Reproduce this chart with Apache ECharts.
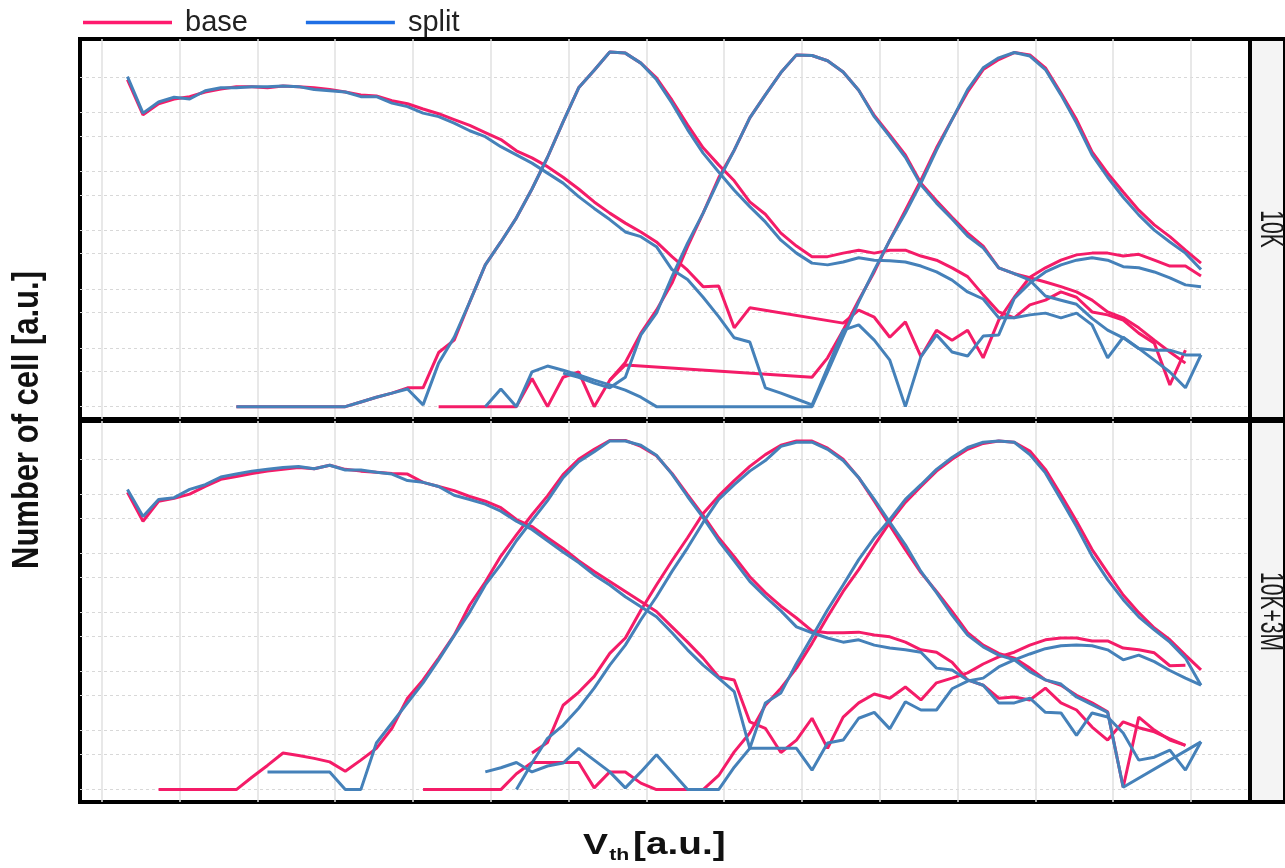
<!DOCTYPE html>
<html lang="en">
<head>
    <meta charset="UTF-8">
    <title>Vth distribution</title>
    <script src="https://cdn.jsdelivr.net/npm/echarts@6.0.0/dist/echarts.min.js"></script>
    <style>
        html, body { margin: 0; padding: 0; background: #fff; }
        #main { width: 1285px; height: 868px; }
    </style>
</head>
<body>

<div id="main"></div>

<script type="text/javascript">
    // bins: Vth = VTH0 + k * VTH_STEP, y = log10(number of cells)
    var VTH0 = 0.33, VTH_STEP = 0.2;
    var X_GRID = [0, 1, 2, 3, 4, 5, 6, 7, 8, 9, 10, 11, 12, 13, 14];
    var Y_GRID = [0, 0.6, 1, 1.6, 2, 2.6, 3, 3.6, 4, 4.6, 5, 5.6];
    var PANELS = ['10K', '10K+3M'];

    // ---- 10K ----
    var base10K_E = [5.56, 4.96, 5.15, 5.23, 5.27, 5.35, 5.40, 5.44, 5.44, 5.42,
        5.45, 5.44, 5.42, 5.39, 5.35, 5.30, 5.28, 5.20, 5.15, 5.06,
        4.98, 4.88, 4.78, 4.66, 4.54, 4.35, 4.23, 4.08, 3.90, 3.70,
        3.48, 3.29, 3.12, 2.97, 2.80, 2.55, 2.32, 2.04, 2.05, 1.34,
        1.68, null, null, null, null, null, 1.42, 1.64, 1.52, 1.18,
        1.44, 0.85, 1.30, 1.13, 1.30, 0.83, 1.47, 1.86, 2.20, 2.36,
        2.49, 2.58, 2.61, 2.61, 2.56, 2.59, 2.49, 2.39, 2.39, 2.22];
    var split10K_E = [5.61, 4.99, 5.18, 5.26, 5.23, 5.37, 5.42, 5.42, 5.44, 5.44,
        5.45, 5.44, 5.39, 5.37, 5.35, 5.27, 5.27, 5.16, 5.10, 4.99,
        4.93, 4.82, 4.69, 4.59, 4.42, 4.28, 4.14, 3.97, 3.80, 3.57,
        3.37, 3.18, 2.97, 2.89, 2.72, 2.33, 2.16, 1.86, 1.53, 1.17,
        1.10, 0.32, 0.23, 0.13, 0.03, 0.66, 1.30, 1.39, 1.13, 0.79,
        0.00, 0.85, 1.22, 0.93, 0.86, 1.20, 1.22, 1.84, 2.10, 2.29,
        2.41, 2.49, 2.53, 2.49, 2.38, 2.36, 2.29, 2.19, 2.07, 2.04];
    // from bin 7
    var base10K_P1 = [0, 0, 0, 0, 0, 0, 0, 0,
        0.08, 0.16, 0.23, 0.32, 0.32,
        0.92, 1.13, 1.78, 2.41, 2.80, 3.21, 3.70, 4.24, 4.84, 5.42,
        5.72, 6.03, 6.01, 5.84, 5.59, 5.21, 4.79, 4.40, 4.11, 3.84,
        3.48, 3.27, 2.95, 2.73, 2.55, 2.55, 2.61, 2.66, 2.61, 2.66,
        2.66, 2.56, 2.49, 2.36, 2.21, 1.90, 1.61, 1.51, 1.73, 1.81,
        1.95, 1.86, 1.61, 1.56, 1.47, 1.25, 1.08, 0.37, 0.96];
    var split10K_P1 = [0, 0, 0, 0, 0, 0, 0, 0,
        0.08, 0.16, 0.23, 0.30, 0.03,
        0.74, 1.18, 1.78, 2.41, 2.80, 3.21, 3.70, 4.24, 4.84, 5.42,
        5.72, 6.03, 6.01, 5.84, 5.56, 5.16, 4.71, 4.31, 3.99, 3.68,
        3.40, 3.14, 2.83, 2.61, 2.44, 2.41, 2.46, 2.53, 2.49, 2.48,
        2.46, 2.39, 2.29, 2.15, 1.95, 1.83, 1.51, 1.51, 1.56, 1.59,
        1.51, 1.59, 1.39, 0.83, 1.18, 0.99, 0.96, 0.96, 0.88, 0.88];
    // from bin 20
    var base10K_P2 = [0, 0, 0, 0, 0, 0,
        0.48, 0, 0.50, 0.59,
        0, 0.45, 0.75, 1.25, 1.64, 2.10, 2.72, 3.29, 3.89, 4.36,
        4.91, 5.30, 5.68, 5.98, 5.97, 5.88, 5.69, 5.38, 4.95, 4.62,
        4.28, 3.80, 3.50, 3.22, 2.95, 2.73, 2.36, 2.26, 2.19, 2.12,
        2.04, 1.95, 1.81, 1.61, 1.51, 1.34, 1.13, 0.93, 0.74];
    // from bin 28
    var split10K_P2 = [0.57, 0.50,
        0.40, 0.32, 0.50, 1.22, 1.59, 2.21, 2.78, 3.29, 3.85, 4.36,
        4.91, 5.30, 5.68, 5.98, 5.97, 5.88, 5.69, 5.38, 4.93, 4.59,
        4.24, 3.77, 3.46, 3.19, 2.90, 2.70, 2.36, 2.26, 2.15, 1.88,
        1.81, 1.74, 1.50, 1.30, 1.17, 0.99, 0.79, 0.59, 0.32, 0.88];
    // from bin 31
    var base10K_P3 = [0.45, 0.71,
        null, null, null, null, null, null, null, null, null, null, null,
        0.50, 0.83, 1.30, 1.81, 2.29, 2.83,
        3.34, 3.85, 4.40, 4.88, 5.35, 5.73, 5.90, 6.02, 5.98, 5.76,
        5.33, 4.88, 4.33, 3.97, 3.65, 3.34, 3.09, 2.89, 2.66, 2.44];
    // from bin 23
    var split10K_P3 = [0, 0.30, 0, 0.59, 0.69, 0.62, 0.54,
        0.45, 0.37, 0.28, 0.16, 0, 0, 0, 0, 0, 0,
        0, 0, 0, 0, 0, 0.59, 1.19, 1.78, 2.32, 2.83,
        3.29, 3.80, 4.36, 4.88, 5.39, 5.76, 5.93, 6.02, 5.96, 5.73,
        5.30, 4.82, 4.28, 3.90, 3.56, 3.26, 3.00, 2.80, 2.61, 2.33];

    // ---- 10K+3M ----
    var base3M_E = [5.04, 4.55, 4.89, 4.94, 5.01, 5.14, 5.26, 5.31, 5.36, 5.40,
        5.43, 5.46, 5.44, 5.50, 5.43, 5.40, 5.38, 5.36, 5.35, 5.21,
        5.14, 5.07, 4.97, 4.89, 4.78, 4.58, 4.46, 4.27, 4.09, 3.88,
        3.70, 3.53, 3.36, 3.19, 3.02, 2.76, 2.50, 2.23, 1.91, 1.86,
        1.15, 1.04, 0.63, 0.84, 1.21, 0.70, 1.23, 1.47, 1.62, 1.55,
        1.74, 1.52, 1.81, 1.89, 1.98, 2.13, 2.25, 2.33, 2.45, 2.54,
        2.57, 2.57, 2.52, 2.52, 2.40, 2.37, 2.32, 2.10, 2.11];
    var split3M_E = [5.09, 4.63, 4.92, 4.95, 5.09, 5.17, 5.30, 5.35, 5.40, 5.43,
        5.46, 5.48, 5.44, 5.50, 5.42, 5.42, 5.38, 5.35, 5.24, 5.21,
        5.14, 4.99, 4.92, 4.84, 4.72, 4.55, 4.41, 4.22, 4.03, 3.85,
        3.64, 3.47, 3.27, 3.10, 2.93, 2.66, 2.37, 2.11, 1.89, 1.66,
        0.70, 0.70, 0.70, 0.70, 0.33, 0.79, 0.84, 1.21, 1.31, 1.03,
        1.49, 1.35, 1.35, 1.71, 1.84, 1.89, 2.08, 2.20, 2.30, 2.39,
        2.44, 2.45, 2.44, 2.37, 2.20, 2.28, 2.17, 2.02, 1.89, 1.77];
    // from bin 2
    var base3M_P1 = [0, 0, 0, 0, 0, 0,
        0.21, 0.41,
        0.62, 0.58, 0.53, 0.47, 0.31, 0.50, 0.70, 1.04, 1.55, 1.86,
        2.23, 2.62, 3.13, 3.52, 3.96, 4.32, 4.66, 4.98, 5.34, 5.60,
        5.77, 5.92, 5.92, 5.82, 5.66, 5.36, 5.00, 4.65, 4.27, 3.95,
        3.61, 3.34, 3.11, 2.91, 2.69, 2.66, 2.66, 2.67, 2.62, 2.59,
        2.50, 2.37, 2.33, 2.16, 1.86, 1.77, 1.55, 1.57, 1.52, 1.72,
        1.47, 1.35, 1.06, 0.84, 1.15, 1.05, 0.98, 0.86, 0.75];
    // from bin 9
    var split3M_P1 = [0.30, 0.30, 0.30, 0.30, 0.30,
        0, 0, 0.79, 1.13, 1.47, 1.81,
        2.20, 2.61, 3.01, 3.47, 3.82, 4.22, 4.56, 4.90, 5.29, 5.56,
        5.73, 5.91, 5.91, 5.84, 5.67, 5.35, 4.97, 4.61, 4.22, 3.88,
        3.53, 3.27, 3.03, 2.76, 2.66, 2.57, 2.50, 2.54, 2.45, 2.40,
        2.37, 2.33, 2.06, 2.03, 1.86, 1.77, 1.47, 1.47, 1.55, 1.31,
        1.30, 0.92, 1.30, 1.23, 0.96, 0.50, 0.55, 0.67, 0.33, 0.81];
    // from bin 26
    var base3M_P2 = [0.62, 0.80, 1.43, 1.65,
        1.92, 2.31, 2.57, 3.04, 3.47, 3.88, 4.27, 4.68, 4.98, 5.24,
        5.48, 5.68, 5.84, 5.91, 5.91, 5.79, 5.60, 5.29, 4.89, 4.48,
        4.07, 3.68, 3.36, 3.02, 2.66, 2.45, 2.31, 2.23, 2.06, 1.86,
        1.77, 1.60, 1.47, 1.32, 0.04, 1.23, 1.01, 0.84, 0.75];
    // from bin 25
    var split3M_P2 = [0, 0.45, 0.87, 1.09, 1.38,
        1.72, 2.11, 2.45, 2.88, 3.27, 3.70, 4.10, 4.53, 4.92, 5.17,
        5.40, 5.58, 5.82, 5.89, 5.89, 5.77, 5.58, 5.29, 4.92, 4.53,
        4.15, 3.70, 3.34, 2.96, 2.62, 2.42, 2.28, 2.20, 2.00, 1.86,
        1.79, 1.57, 1.44, 1.31, 0.04, null, null, null, null, 0.81];
    // from bin 19
    var base3M_P3 = [0, 0, 0, 0, 0, 0,
        0.27, 0.46, 0.46, 0.46, 0.46,
        0.03, 0.30, 0.30, 0.11, 0, 0, 0, 0, 0.24, 0.64,
        0.96, 1.43, 1.72, 2.06, 2.48, 2.93, 3.36, 3.73, 4.14, 4.53,
        4.87, 5.14, 5.40, 5.60, 5.77, 5.87, 5.91, 5.89, 5.74, 5.43,
        5.00, 4.55, 4.07, 3.68, 3.30, 3.00, 2.74, 2.54, 2.28, 2.03];
    // from bin 23
    var split3M_P3 = [0.30, 0.37, 0.46, 0.30, 0.40, 0.45, 0.70,
        0.50, 0.30, 0.03, 0.30, 0.59, 0.30, 0, 0, 0, 0.38,
        0.70, 1.47, 1.64, 2.14, 2.59, 3.05, 3.47, 3.90, 4.27, 4.58,
        4.92, 5.17, 5.43, 5.63, 5.80, 5.89, 5.91, 5.89, 5.68, 5.37,
        4.92, 4.46, 3.96, 3.56, 3.22, 2.93, 2.71, 2.50, 2.23, 1.77];

    // [panel, first bin, values]
    var baseCurves = [
        [0, 0, base10K_E], [0, 7, base10K_P1], [0, 20, base10K_P2], [0, 31, base10K_P3],
        [1, 0, base3M_E], [1, 2, base3M_P1], [1, 26, base3M_P2], [1, 19, base3M_P3]
    ];
    var splitCurves = [
        [0, 0, split10K_E], [0, 7, split10K_P1], [0, 28, split10K_P2], [0, 23, split10K_P3],
        [1, 0, split3M_E], [1, 9, split3M_P1], [1, 25, split3M_P2], [1, 23, split3M_P3]
    ];

    var PINK = '#f41c68', BLUE = '#4581b9';
    var FONT = '"Liberation Sans", Arial, sans-serif';
    var GRID_TOP = [39, 421], GRID_H = [380, 381];

    function toPoints(start, ys) {
        var pts = [];
        ys.forEach(function (v, i) {
            if (v !== null) pts.push([VTH0 + (start + i) * VTH_STEP, v]);
        });
        return pts;
    }

    var series = [];
    function addCurves(list, name, color) {
        list.forEach(function (c) {
            series.push({
                name: name,
                type: 'line',
                xAxisIndex: c[0],
                yAxisIndex: c[0],
                data: toPoints(c[1], c[2]),
                symbol: 'none',
                silent: true,
                lineStyle: {width: 3, color: color},
                itemStyle: {color: color}
            });
        });
    }
    addCurves(baseCurves, 'base', PINK);
    addCurves(splitCurves, 'split', BLUE);

    var grids = [], xAxes = [], yAxes = [];
    PANELS.forEach(function (p, i) {
        grids.push({left: 80, right: 35, top: GRID_TOP[i], height: GRID_H[i], show: true,
            backgroundColor: '#fff', borderColor: '#000', borderWidth: 4});
        xAxes.push({
            type: 'value', gridIndex: i, min: -0.28, max: 14.76,
            axisLine: {show: false},
            axisTick: {show: false, customValues: X_GRID},
            axisLabel: {show: false, customValues: X_GRID},
            splitLine: {show: true, lineStyle: {color: '#e1e1e1', width: 1.5}}
        });
        yAxes.push({
            type: 'value', gridIndex: i, min: -0.21, max: 6.25,
            axisLine: {show: false},
            axisTick: {show: false, customValues: Y_GRID},
            axisLabel: {show: false, customValues: Y_GRID},
            splitLine: {show: true, lineStyle: {color: '#d8d8d8', width: 1, type: [3, 3]}}
        });
    });
    // facet strips on the right
    PANELS.forEach(function (p, i) {
        grids.push({left: 1250, right: -10, top: GRID_TOP[i], height: GRID_H[i], show: true,
            backgroundColor: '#f4f4f4', borderColor: '#000', borderWidth: 4});
        xAxes.push({type: 'value', gridIndex: 2 + i, show: false, splitLine: {show: false}});
        yAxes.push({type: 'value', gridIndex: 2 + i, show: false, splitLine: {show: false}});
    });

    var titleStyle = {fontWeight: 'bold', fontFamily: FONT, fill: '#111', align: 'left', verticalAlign: 'bottom'};
    var graphics = [
        {
            type: 'text', x: 28, y: 420, rotation: Math.PI / 2, scaleY: 1.2,
            style: {text: 'Number of cell [a.u.]', fontSize: 31, fontWeight: 'bold', fontFamily: FONT,
                fill: '#111', align: 'center', verticalAlign: 'middle'}
        },
        {
            type: 'group', x: 583, y: 861, scaleX: 1.25,
            children: [
                {type: 'text', x: 0, y: 0, style: Object.assign({text: 'V', fontSize: 30}, titleStyle)},
                {type: 'text', x: 21, y: 3, style: Object.assign({text: 'th', fontSize: 17}, titleStyle)},
                {type: 'text', x: 40, y: 0, style: Object.assign({text: '[a.u.]', fontSize: 31}, titleStyle)}
            ]
        }
    ];
    PANELS.forEach(function (p, i) {
        graphics.push({
            type: 'text', x: 1270, y: GRID_TOP[i] + GRID_H[i] / 2, rotation: -Math.PI / 2, scaleX: 0.62,
            style: {text: p, fontSize: 34, fontFamily: FONT, fill: '#1a1a1a', align: 'center', verticalAlign: 'middle'}
        });
    });

    var chart = echarts.init(document.getElementById('main'));
    chart.setOption({
        animation: false,
        backgroundColor: '#fff',
        legend: {
            left: 83, top: 8, padding: 0,
            icon: 'rect', itemWidth: 89, itemHeight: 3.5, itemGap: 58,
            textStyle: {fontSize: 29, fontFamily: FONT, color: '#222', padding: [0, 0, 0, 8]},
            data: [
                {name: 'base', itemStyle: {color: '#ff1a6e'}},
                {name: 'split', itemStyle: {color: '#1f6fe5'}}
            ]
        },
        grid: grids,
        xAxis: xAxes,
        yAxis: yAxes,
        graphic: graphics,
        series: series
    });
</script>

</body>
</html>
